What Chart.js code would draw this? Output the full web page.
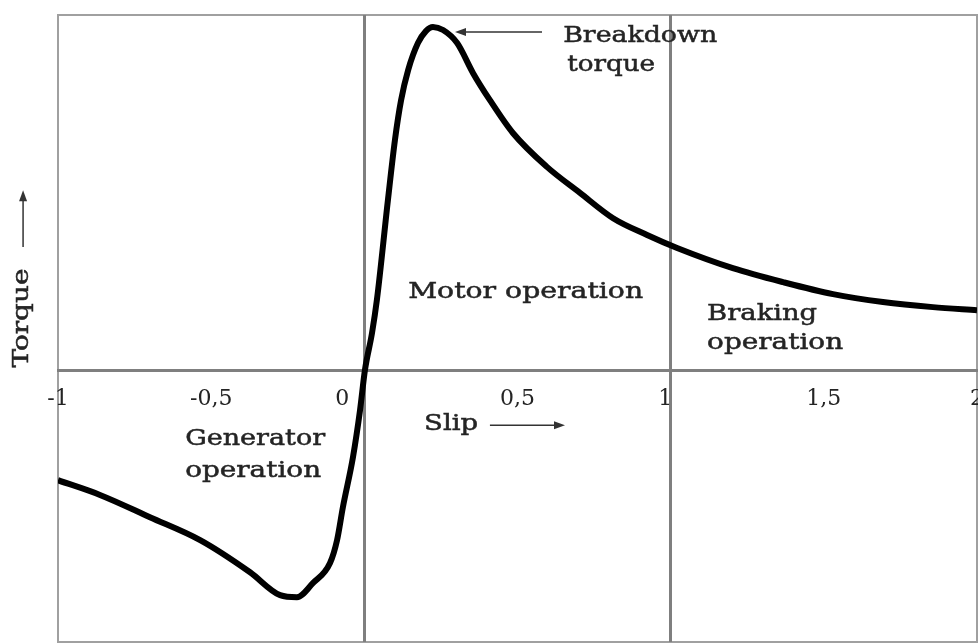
<!DOCTYPE html>
<html>
<head>
<meta charset="utf-8">
<script src="https://cdn.jsdelivr.net/npm/chart.js@4.4.0/dist/chart.umd.min.js"></script>
<style>
  body { margin: 0; background: #fff; overflow: hidden; }
  #wrap { width: 978px; height: 644px; }
</style>
</head>
<body>
<div id="wrap"><canvas id="myChart"></canvas></div>
<script>
// slip (x) and torque (y, breakdown torque = 1)
const slip = [-1.000, -0.863, -0.700, -0.536, -0.373, -0.275, -0.220, -0.168, -0.112, -0.089,
  -0.070, -0.037, -0.014, 0.002, 0.025, 0.041, 0.077, 0.100, 0.120, 0.143,
  0.175, 0.201, 0.224, 0.257, 0.303, 0.355, 0.410, 0.485, 0.596, 0.704,
  0.812, 0.923, 1.021, 1.203, 1.367, 1.530, 1.693, 1.856, 2.000]
const torque = [-0.322, -0.365, -0.430, -0.497, -0.591, -0.658, -0.664, -0.623, -0.564, -0.497,
  -0.401, -0.254, -0.117, 0.000, 0.108, 0.205, 0.497, 0.673, 0.789, 0.877,
  0.956, 0.991, 1.003, 0.994, 0.956, 0.868, 0.789, 0.693, 0.594, 0.518,
  0.444, 0.395, 0.357, 0.298, 0.257, 0.222, 0.199, 0.184, 0.175]
const slipTicks = [-1, -0.5, 0, 0.5, 1, 1.5, 2]
const regionLines = [0, 1]

const points = slip.map((s, i) => ({x: s, y: torque[i]}))

const FONT = '"DejaVu Serif", serif'
const TXT = '#242424'

// stretch a text horizontally to a given width (the picture's font is wide)
function fitText(ctx, str, x, y, w) {
  const m = ctx.measureText(str).width
  ctx.save()
  ctx.translate(x, y)
  ctx.scale(w / m, 1)
  ctx.fillText(str, 0, 0)
  ctx.strokeText(str, 0, 0)
  ctx.restore()
}

function arrow(ctx, x1, y1, x2, y2) {
  const a = Math.atan2(y2 - y1, x2 - x1)
  ctx.lineWidth = 1.5
  ctx.beginPath()
  ctx.moveTo(x1, y1)
  ctx.lineTo(x2 - 8 * Math.cos(a), y2 - 8 * Math.sin(a))
  ctx.stroke()
  ctx.beginPath()
  ctx.moveTo(x2, y2)
  ctx.lineTo(x2 - 11 * Math.cos(a) + 4 * Math.sin(a), y2 - 11 * Math.sin(a) - 4 * Math.cos(a))
  ctx.lineTo(x2 - 11 * Math.cos(a) - 4 * Math.sin(a), y2 - 11 * Math.sin(a) + 4 * Math.cos(a))
  ctx.closePath()
  ctx.fill()
}

const frame = {
  id: 'frame',
  beforeDraw(chart) {
    const {ctx, chartArea: a} = chart
    ctx.save()
    ctx.strokeStyle = '#a0a0a0'
    ctx.lineWidth = 2
    ctx.strokeRect(a.left, a.top, a.right - a.left, a.bottom - a.top)
    ctx.restore()
  }
}

const notes = {
  id: 'notes',
  afterDraw(chart) {
    const {ctx} = chart
    const X = v => chart.scales.x.getPixelForValue(v)
    const Y = v => chart.scales.y.getPixelForValue(v)
    ctx.save()
    ctx.fillStyle = TXT
    ctx.strokeStyle = TXT
    ctx.lineWidth = 0.5
    ctx.font = '23px ' + FONT
    ctx.textBaseline = 'alphabetic'
    ctx.textAlign = 'left'

    fitText(ctx, 'Breakdown', X(0.649), Y(0.959), 154)
    fitText(ctx, 'torque', X(0.662), Y(0.874), 88)
    fitText(ctx, 'Motor operation', X(0.143), Y(0.211), 235)
    fitText(ctx, 'Braking', X(1.119), Y(0.146), 110)
    fitText(ctx, 'operation', X(1.119), Y(0.061), 136)
    fitText(ctx, 'Generator', X(-0.585), Y(-0.219), 140)
    fitText(ctx, 'operation', X(-0.585), Y(-0.313), 136)
    fitText(ctx, 'Slip', X(0.195), Y(-0.175), 54)

    // y axis name, rotated
    ctx.save()
    ctx.translate(X(-1.118), Y(0.152))
    ctx.rotate(-Math.PI / 2)
    ctx.textAlign = 'center'
    ctx.textBaseline = 'middle'
    const m = ctx.measureText('Torque').width
    ctx.scale(99 / m, 1)
    ctx.fillText('Torque', 0, 0)
    ctx.strokeText('Torque', 0, 0)
    ctx.restore()

    ctx.strokeStyle = '#333'
    ctx.fillStyle = '#333'
    arrow(ctx, X(0.580), Y(0.988), X(0.296), Y(0.988))
    arrow(ctx, X(0.410), Y(-0.161), X(0.655), Y(-0.161))
    arrow(ctx, X(-1.114), Y(0.360), X(-1.114), Y(0.526))
    ctx.restore()
  }
}

new Chart(document.getElementById('myChart'), {
  type: 'line',
  data: {
    datasets: [{
      data: points,
      borderColor: '#000',
      borderWidth: 6,
      pointRadius: 0,
      fill: false,
      cubicInterpolationMode: 'monotone'
    }]
  },
  options: {
    responsive: true,
    maintainAspectRatio: false,
    animation: false,
    layout: {autoPadding: false, padding: {left: 58, top: 15, right: 1, bottom: 2}},
    plugins: {legend: {display: false}, tooltip: {enabled: false}},
    scales: {
      x: {
        type: 'linear',
        min: -1,
        max: 2,
        position: {y: 0},
        afterBuildTicks: s => { s.ticks = slipTicks.map(v => ({value: v})) },
        afterFit: s => { s.paddingLeft = 0; s.paddingRight = 0 },
        ticks: {
          autoSkip: false,
          maxRotation: 0,
          padding: 16,
          color: TXT,
          font: {family: FONT, size: 22},
          callback: v => {
            const t = String(v).replace('.', ',')
            if (v === 0) return t + '\u2003\u2003'
            if (v === 1) return t + '\u2002'
            return t
          }
        },
        grid: {
          drawTicks: false,
          lineWidth: 3,
          color: c => (c.tick && regionLines.includes(c.tick.value)) ? '#7f7f7f' : 'rgba(0,0,0,0)'
        },
        border: {display: true, color: '#7f7f7f', width: 3}
      },
      y: {
        type: 'linear',
        min: -0.795,
        max: 1.038,
        display: false
      }
    }
  },
  plugins: [frame, notes]
})
</script>
</body>
</html>
